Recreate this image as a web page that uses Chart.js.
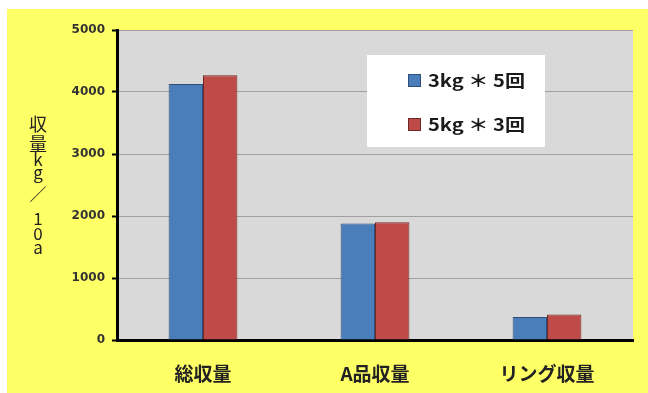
<!DOCTYPE html>
<html>
<head>
<meta charset="utf-8">
<script src="https://cdn.jsdelivr.net/npm/chart.js@4.4.1/dist/chart.umd.min.js"></script>
<style>
  html, body { margin: 0; padding: 0; background: #fff; }
  #wrap { width: 648px; height: 393px; }
</style>
</head>
<body>
<div id="wrap"><canvas id="yieldChart" width="648" height="393"></canvas></div>
<script>
var labels = ['総収量', 'A品収量', 'リング収量'];
var series1 = [4130, 1880, 370];   // 3kg＊5回
var series2 = [4270, 1900, 410];   // 5kg＊3回
var seriesNames = ['3kg ＊ 5回', '5kg ＊ 3回'];
var yTicks = [0, 1000, 2000, 3000, 4000, 5000];
var yTitle = ['収', '量', 'k', 'g', '／', '1', '0', 'a'];

var JP = '"Noto Sans CJK JP", "Noto Sans", sans-serif';

// yellow page, grey plot area
var backdrop = {
    id: 'backdrop',
    beforeDraw: function(chart){
        var c = chart.ctx, a = chart.chartArea;
        c.save();
        c.fillStyle = '#ffffff';
        c.fillRect(0, 0, chart.width, chart.height);
        c.fillStyle = '#ffff66';
        c.fillRect(7, 9, chart.width - 7, chart.height - 9);
        c.fillStyle = '#d9d9d9';
        c.fillRect(a.left, a.top, a.right - a.left, a.bottom - a.top);
        c.restore();
    }
};

// legend box inside the plot + stacked axis title
var extras = {
    id: 'extras',
    afterDraw: function(chart){
        var c = chart.ctx;
        c.save();
        c.fillStyle = '#ffffff';
        c.fillRect(367, 55, 178, 92);
        chart.data.datasets.forEach(function(ds, i){
            var y = 74 + i * 44;
            c.fillStyle = ds.backgroundColor;
            c.fillRect(408, y, 13, 13);
            c.strokeStyle = ds.borderColor;
            c.lineWidth = 1;
            c.strokeRect(408.5, y + 0.5, 12, 12);
            c.fillStyle = '#1a1a1a';
            c.font = 'bold 17px ' + JP;
            c.textBaseline = 'middle';
            c.textAlign = 'left';
            // stretch the label to the wide legend font
            var w = c.measureText(ds.label).width;
            c.translate(428, y + 7);
            c.scale(97 / w, 1);
            c.fillText(ds.label, 0, 0);
            c.setTransform(1, 0, 0, 1, 0, 0);
        });

        c.fillStyle = '#222';
        c.textAlign = 'center';
        c.textBaseline = 'middle';
        var ys = [124, 144, 160, 173, 195, 219, 234, 248];
        yTitle.forEach(function(ch, i){
            c.font = (i < 2 ? '18px ' : '17px ') + JP;
            c.fillText(ch, 38, ys[i]);
        });
        c.restore();
    }
};

new Chart(document.getElementById('yieldChart'), {
    type: 'bar',
    data: {
        labels: labels,
        datasets: [{
            label: seriesNames[0],
            data: series1,
            backgroundColor: '#4a7ebb',
            borderColor: '#2f4f7a',
            borderWidth: 1
        }, {
            label: seriesNames[1],
            data: series2,
            backgroundColor: '#be4b48',
            borderColor: '#6e2a28',
            borderWidth: 1
        }]
    },
    options: {
        responsive: false,
        animation: false,
        layout: { padding: { left: 0, right: 15, top: 30, bottom: 0 } },
        datasets: { bar: { categoryPercentage: 0.4, barPercentage: 1.0 } },
        plugins: { legend: { display: false }, tooltip: { enabled: false } },
        scales: {
            x: {
                grid: { display: false, drawTicks: false },
                border: { display: true, color: '#000', width: 3 },
                ticks: { padding: 22, color: '#222', font: { family: JP, size: 19, weight: 'bold' } },
                afterFit: function(s){ s.height = 53; }
            },
            y: {
                min: 0, max: 5000,
                afterBuildTicks: function(s){ s.ticks = yTicks.map(function(v){ return { value: v }; }); },
                grid: { color: '#a0a0a0', lineWidth: 1, tickColor: '#000', tickLength: 5, tickWidth: 2 },
                border: { display: true, color: '#000', width: 3 },
                ticks: {
                    padding: 7, color: '#333',
                    font: { family: '"DejaVu Sans", sans-serif', size: 12, weight: 'bold' },
                    callback: function(v){ return String(v); }
                },
                afterFit: function(s){ s.width = 117; }
            }
        }
    },
    plugins: [backdrop, extras]
});
</script>
</body>
</html>
